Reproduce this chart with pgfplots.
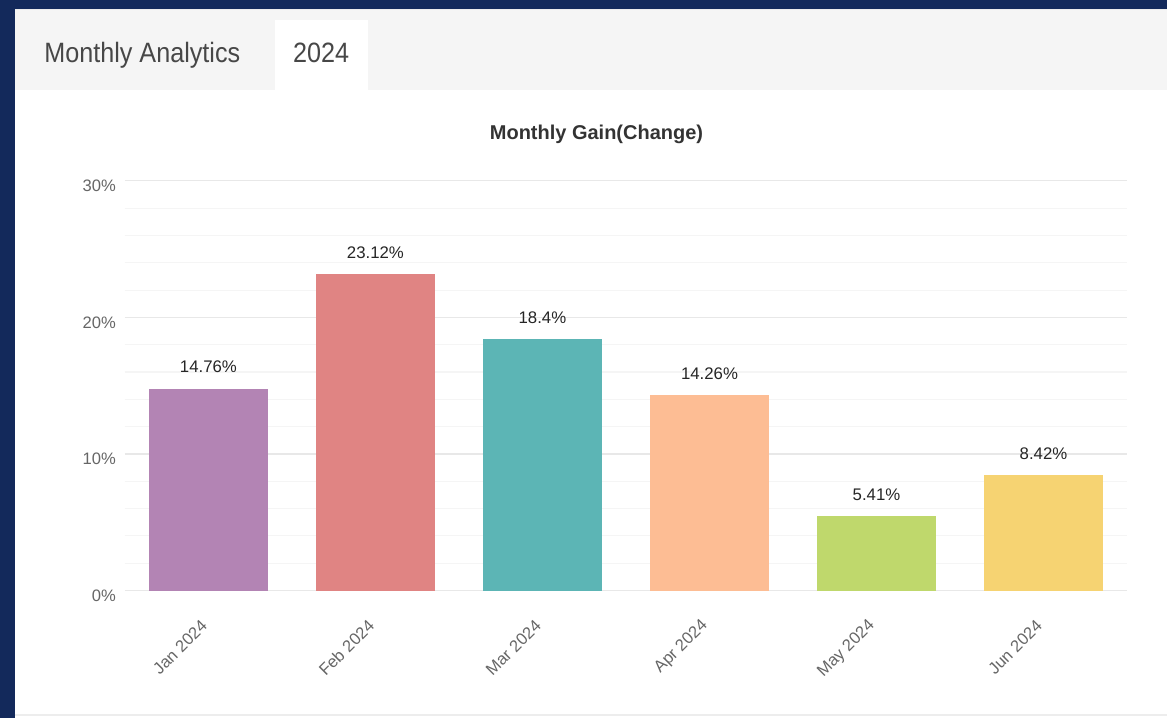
\documentclass[border=0pt]{standalone}
\usepackage{pgfplots}
\pgfplotsset{compat=1.18}
\usepackage{fontspec}
\setmainfont{Liberation Sans}
\newfontfamily\narrowfont[FakeStretch=0.9]{Liberation Sans}
\definecolor{navy}{HTML}{13295B}
\definecolor{hdr}{HTML}{F5F5F5}
\definecolor{cJan}{HTML}{B384B4}
\definecolor{cFeb}{HTML}{E08483}
\definecolor{cMar}{HTML}{5CB5B5}
\definecolor{cApr}{HTML}{FDBD94}
\definecolor{cMay}{HTML}{BFD86C}
\definecolor{cJun}{HTML}{F6D372}
\begin{document}
\begin{tikzpicture}
\begin{scope}[x=0.5pt,y=-0.5pt]
\fill[navy] (0,0) rectangle (1168,719);
\fill[white] (15,9) rectangle (1168,719);
\fill[hdr] (15,9) rectangle (1168,90);
\draw[color=black!8,line width=0.8pt] (15,9.5) -- (1168,9.5);
\fill[white] (275,20) rectangle (368,90);
\draw[color=black!7,line width=1pt] (15,716) -- (1168,716);
\node[anchor=base west,inner sep=0,text=black!72] at (44,63) {\fontsize{14pt}{16pt}\narrowfont Monthly Analytics};
\node[anchor=base,inner sep=0,text=black!72] at (321.5,63) {\fontsize{14pt}{16pt}\narrowfont 2024};
\node[anchor=base,inner sep=0,text=black!80] at (597,140) {\fontsize{10pt}{12pt}\selectfont\bfseries Monthly Gain(Change)};
\end{scope}
\begin{axis}[
  at={(62.5pt,-295.5pt)}, anchor=south west,
  scale only axis, width=501.5pt, height=205pt,
  xmin=-0.5, xmax=5.5, ymin=0, ymax=30,
  ybar, bar width=59pt, bar shift=0pt,
  axis line style={draw=none}, tick style={draw=none},
  xtick={0,1,2,3,4,5},
  xticklabels={Jan 2024,Feb 2024,Mar 2024,Apr 2024,May 2024,Jun 2024},
  xticklabel style={rotate=45, anchor=east, text=black!60, font=\fontsize{8.3pt}{10pt}\selectfont, xshift=-6.5pt, yshift=-7pt},
  ytick={0,10,20,30},
  yticklabel={\pgfmathprintnumber{\tick}\%},
  yticklabel style={text=black!60, font=\fontsize{8.3pt}{10pt}\selectfont, xshift=-1pt, yshift=-2.5pt},
  /pgf/number format/assume math mode=true,
  minor y tick num=4,
  ymajorgrids, yminorgrids,
  major grid style={color=black!9, line width=0.6pt},
  minor grid style={color=black!4, line width=0.6pt},
  point meta=explicit symbolic,
  nodes near coords,
  every node near coord/.append style={text=black!85, font=\fontsize{8.4pt}{10pt}\selectfont, anchor=south, yshift=4.5pt},
]
\addplot[fill=cJan, draw=cJan] coordinates {(0,14.76) [14.76\%]};
\addplot[fill=cFeb, draw=cFeb] coordinates {(1,23.12) [23.12\%]};
\addplot[fill=cMar, draw=cMar] coordinates {(2,18.4) [18.4\%]};
\addplot[fill=cApr, draw=cApr] coordinates {(3,14.26) [14.26\%]};
\addplot[fill=cMay, draw=cMay] coordinates {(4,5.41) [5.41\%]};
\addplot[fill=cJun, draw=cJun] coordinates {(5,8.42) [8.42\%]};
\end{axis}
\end{tikzpicture}
\end{document}
